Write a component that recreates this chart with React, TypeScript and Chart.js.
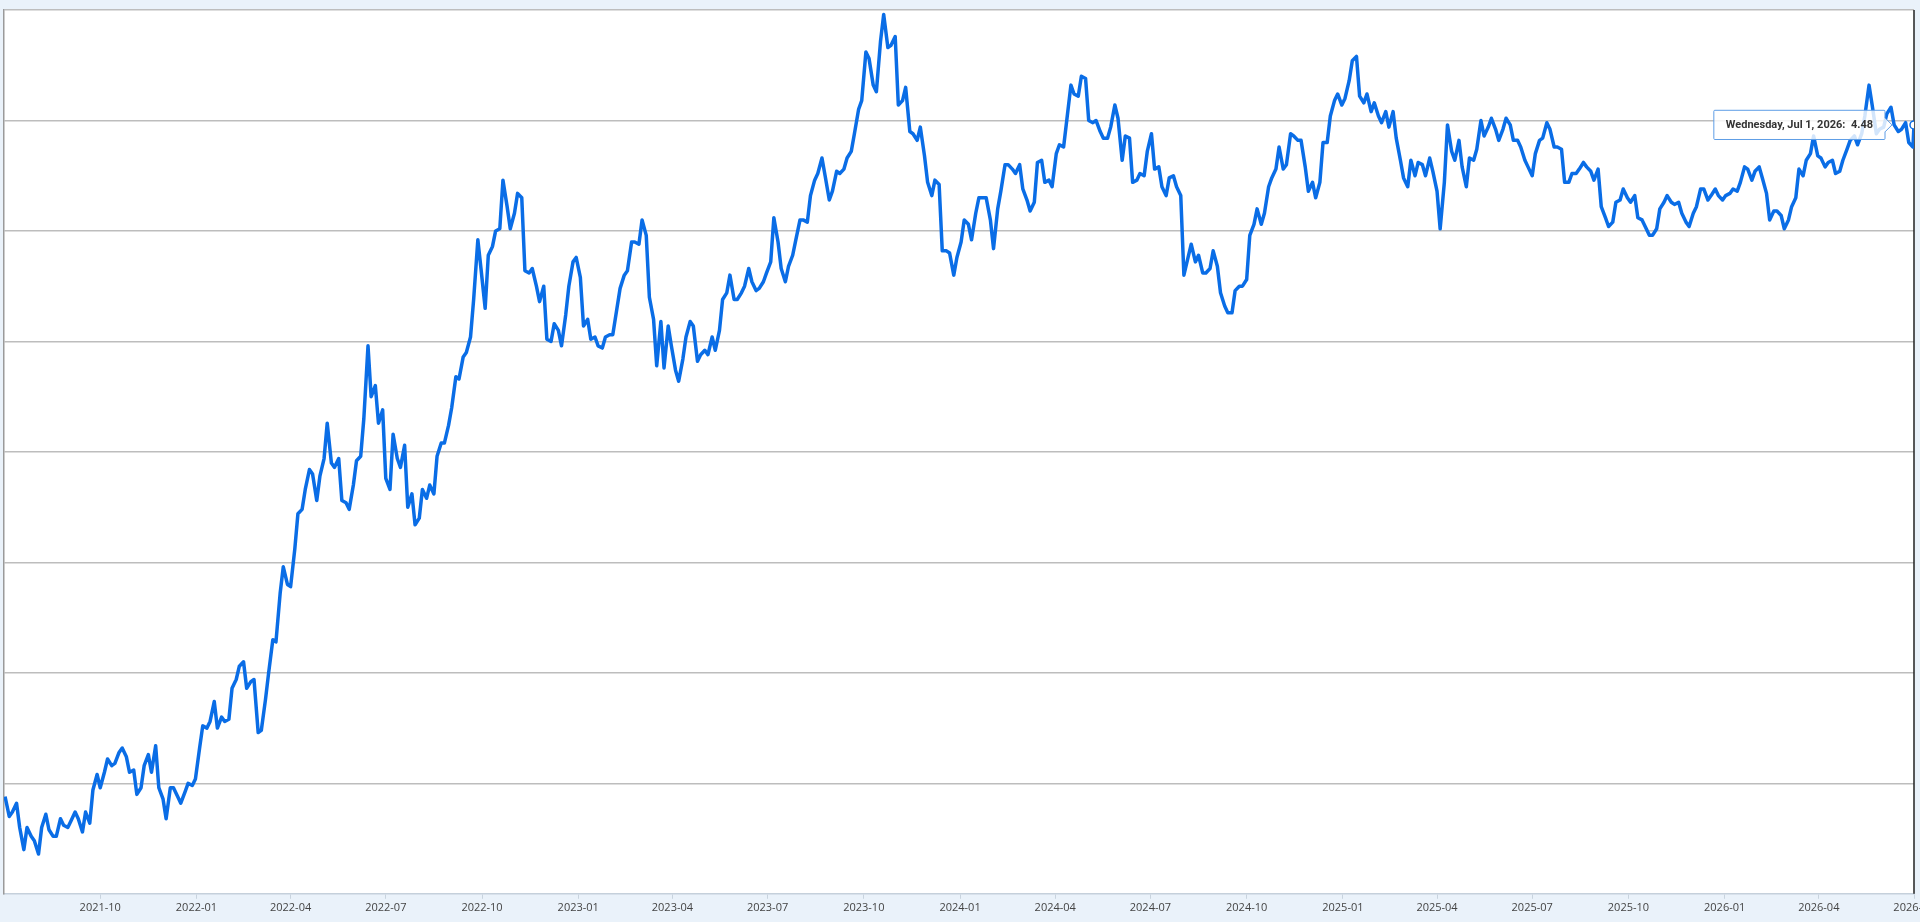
import { useEffect, useRef } from 'react';
import Chart from 'chart.js/auto';

// 10-year yield: Friday closes and Tuesday closes
const FIRST_FRIDAY = '2021-07-02';
const FIRST_TUESDAY = '2021-07-06';

const fri2021 = [
  1.44, 1.37, 1.30, 1.30, 1.24, 1.30, 1.29, 1.26, 1.31, 1.33, 1.34, 1.37, 1.47,
  1.48, 1.61, 1.59, 1.66, 1.55, 1.45, 1.58, 1.55, 1.48, 1.34, 1.48, 1.41, 1.50, 1.52,
];
const tue2021 = [
  1.35, 1.41, 1.20, 1.26, 1.18, 1.36, 1.26, 1.34, 1.30, 1.37, 1.28, 1.32, 1.54,
  1.55, 1.58, 1.64, 1.62, 1.56, 1.48, 1.63, 1.67, 1.43, 1.48, 1.44, 1.46, 1.49,
];
const fri2022 = [
  1.76, 1.78, 1.75, 1.78, 1.93, 2.03, 1.93, 1.97, 1.74, 2.00, 2.14, 2.48, 2.39,
  2.72, 2.83, 2.90, 2.89, 3.13, 2.93, 2.78, 2.74, 2.96, 3.15, 3.25, 3.13, 2.88,
  3.08, 2.93, 2.75, 2.67, 2.83, 2.85, 2.98, 3.04, 3.20, 3.33, 3.45, 3.69, 3.83,
  3.89, 4.00, 4.23, 4.01, 4.17, 3.82, 3.83, 3.68, 3.51, 3.58, 3.48, 3.75, 3.88,
];
const tue2022 = [
  1.66, 1.75, 1.87, 1.80, 1.79, 1.97, 2.05, 1.96, 1.73, 1.88, 2.15, 2.36, 2.40,
  2.56, 2.74, 2.92, 2.78, 2.97, 2.95, 2.97, 2.77, 2.85, 2.98, 3.48, 3.30, 3.19,
  2.83, 2.97, 3.03, 2.81, 2.70, 2.79, 2.81, 3.04, 3.12, 3.34, 3.43, 3.52, 3.96,
  3.65, 3.93, 4.01, 4.11, 4.08, 4.15, 3.81, 3.75, 3.75, 3.50, 3.55, 3.62, 3.86,
];
const fri2023 = [
  3.57, 3.51, 3.48, 3.52, 3.53, 3.74, 3.82, 3.95, 4.05, 3.70, 3.39, 3.38, 3.48,
  3.32, 3.52, 3.57, 3.44, 3.44, 3.46, 3.69, 3.80, 3.69, 3.75, 3.77, 3.74, 3.81,
  4.06, 3.83, 3.84, 3.96, 4.05, 4.16, 4.26, 4.25, 4.18, 4.26, 4.33, 4.44, 4.59,
  4.78, 4.63, 4.98, 4.84, 4.57, 4.65, 4.44, 4.47, 4.22, 4.23, 3.91, 3.90, 3.88,
];
const tue2023 = [
  3.79, 3.60, 3.52, 3.47, 3.53, 3.65, 3.80, 3.95, 3.94, 3.98, 3.60, 3.59, 3.57,
  3.37, 3.42, 3.59, 3.41, 3.46, 3.52, 3.55, 3.72, 3.69, 3.72, 3.83, 3.73, 3.77,
  3.86, 3.95, 3.77, 3.89, 4.05, 4.04, 4.23, 4.33, 4.14, 4.27, 4.28, 4.36, 4.55,
  4.81, 4.66, 4.86, 4.83, 4.88, 4.59, 4.45, 4.41, 4.34, 4.16, 4.21, 3.91, 3.80,
];
const fri2024 = [
  4.05, 3.96, 4.15, 4.15, 3.92, 4.18, 4.30, 4.26, 4.19, 4.09, 4.31, 4.22, 4.20,
  4.39, 4.50, 4.62, 4.70, 4.50, 4.50, 4.42, 4.47, 4.51, 4.43, 4.22, 4.26, 4.36,
  4.28, 4.20, 4.24, 4.20, 3.80, 3.94, 3.89, 3.81, 3.91, 3.72, 3.63, 3.73, 3.75,
  3.98, 4.10, 4.08, 4.24, 4.38, 4.30, 4.43, 4.41, 4.18, 4.15, 4.40, 4.52, 4.62,
];
const tue2024 = [
  3.95, 4.03, 4.08, 4.15, 4.05, 4.10, 4.30, 4.28, 4.30, 4.14, 4.13, 4.32, 4.23,
  4.35, 4.38, 4.66, 4.61, 4.69, 4.49, 4.45, 4.42, 4.57, 4.32, 4.42, 4.23, 4.25,
  4.44, 4.29, 4.16, 4.25, 4.16, 3.88, 3.86, 3.81, 3.83, 3.84, 3.66, 3.63, 3.75,
  3.78, 4.03, 4.03, 4.20, 4.28, 4.28, 4.44, 4.41, 4.29, 4.22, 4.22, 4.40, 4.59, 4.57,
];
const fri2025 = [
  4.60, 4.77, 4.61, 4.62, 4.58, 4.49, 4.47, 4.42, 4.24, 4.32, 4.31, 4.25, 4.27,
  4.01, 4.48, 4.32, 4.29, 4.33, 4.37, 4.43, 4.51, 4.41, 4.51, 4.41, 4.38, 4.29,
  4.35, 4.42, 4.46, 4.38, 4.22, 4.26, 4.28, 4.29, 4.23, 4.11, 4.02, 4.13, 4.19,
  4.13, 4.06, 4.02, 3.98, 4.10, 4.16, 4.12, 4.08, 4.02, 4.11, 4.19, 4.16, 4.16,
];
const tue2025 = [
  4.68, 4.79, 4.58, 4.54, 4.52, 4.54, 4.54, 4.32, 4.20, 4.25, 4.30, 4.33, 4.18,
  4.22, 4.36, 4.41, 4.20, 4.32, 4.50, 4.47, 4.46, 4.46, 4.48, 4.41, 4.32, 4.25,
  4.41, 4.49, 4.38, 4.37, 4.22, 4.26, 4.31, 4.27, 4.28, 4.06, 4.04, 4.14, 4.15,
  4.16, 4.05, 3.98, 4.01, 4.13, 4.13, 4.13, 4.04, 4.08, 4.19, 4.14, 4.19, 4.14,
];
const fri2026 = [
  4.16, 4.19, 4.22, 4.28, 4.27, 4.24, 4.05, 4.09, 4.01, 4.11, 4.28, 4.32, 4.43,
  4.33, 4.31, 4.26, 4.32, 4.41, 4.39, 4.52, 4.57, 4.46, 4.53, 4.48, 4.46, 4.40,
];
const tue2026 = [
  4.17, 4.18, 4.29, 4.23, 4.29, 4.17, 4.09, 4.07, 4.05, 4.15, 4.25, 4.35, 4.34,
  4.29, 4.32, 4.27, 4.37, 4.43, 4.44, 4.66, 4.44, 4.47, 4.56, 4.45, 4.49, 4.38,
];
const LAST_DATE = '2026-07-01';
const LAST_VALUE = 4.48;

const tickMonths = [
  '2021-10', '2022-01', '2022-04', '2022-07', '2022-10', '2023-01', '2023-04',
  '2023-07', '2023-10', '2024-01', '2024-04', '2024-07', '2024-10', '2025-01',
  '2025-04', '2025-07', '2025-10', '2026-01', '2026-04', '2026-07',
];

const AXIS_START = '2021-07-01';
const AXIS_END = '2026-07-01';
const LINE_COLOR = '#0a6de6';

const DAY = 86400000;
const dayOf = (iso: string) => (Date.parse(iso) - Date.parse(AXIS_START)) / DAY;

const longDate = (d: number) =>
  new Date(Date.parse(AXIS_START) + d * DAY).toLocaleDateString('en-US', {
    weekday: 'long',
    month: 'short',
    day: 'numeric',
    year: 'numeric',
    timeZone: 'UTC',
  });

const fridays = [...fri2021, ...fri2022, ...fri2023, ...fri2024, ...fri2025, ...fri2026];
const tuesdays = [...tue2021, ...tue2022, ...tue2023, ...tue2024, ...tue2025, ...tue2026];

const points = [
  ...fridays.map((v, i) => ({ x: dayOf(FIRST_FRIDAY) + 7 * i, y: v })),
  ...tuesdays.map((v, i) => ({ x: dayOf(FIRST_TUESDAY) + 7 * i, y: v })),
].sort((a, b) => a.x - b.x);
points.push({ x: dayOf(LAST_DATE), y: LAST_VALUE });

const tickLabel = new Map(tickMonths.map((m) => [dayOf(m + '-01'), m]));

export default function App() {
  const canvasRef = useRef<HTMLCanvasElement>(null);

  useEffect(() => {
    const canvas = canvasRef.current;
    if (!canvas) return;

    Chart.defaults.font.family = "'Open Sans', sans-serif";

    const frame = {
      id: 'frame',
      beforeDraw(chart: Chart) {
        const { ctx, chartArea: a } = chart;
        ctx.save();
        ctx.fillStyle = '#ffffff';
        ctx.fillRect(a.left, a.top, a.right - a.left, a.bottom - a.top);
        ctx.restore();
      },
      beforeDatasetsDraw(chart: Chart) {
        const { ctx, chartArea: a } = chart;
        ctx.save();
        ctx.strokeStyle = '#222222';
        ctx.lineWidth = 1.5;
        ctx.beginPath();
        ctx.moveTo(a.right, a.top);
        ctx.lineTo(a.right, a.bottom);
        ctx.stroke();
        ctx.restore();
      },
    };

    const chart = new Chart(canvas, {
      type: 'line',
      data: {
        datasets: [
          {
            label: '10Y',
            data: points,
            borderColor: LINE_COLOR,
            borderWidth: 3.5,
            borderJoinStyle: 'round',
            pointRadius: 0,
            pointHoverRadius: 4,
            pointHoverBorderWidth: 1.5,
            pointHoverBackgroundColor: '#ffffff',
            pointHoverBorderColor: LINE_COLOR,
            tension: 0,
            fill: false,
          },
        ],
      },
      options: {
        responsive: true,
        maintainAspectRatio: false,
        animation: false,
        events: [],
        layout: { padding: { left: 4, top: 10, right: 46, bottom: 6 } },
        plugins: {
          legend: { display: false },
          tooltip: {
            xAlign: 'right',
            yAlign: 'center',
            backgroundColor: 'rgba(255,255,255,0.82)',
            borderColor: '#5e9de6',
            borderWidth: 1,
            cornerRadius: 1,
            caretSize: 7,
            caretPadding: 22,
            displayColors: false,
            padding: { x: 12, y: 8 },
            bodyColor: '#333333',
            bodyFont: { family: 'Roboto', size: 11, weight: 'bold' },
            callbacks: {
              title: () => '',
              label: (c) => `${longDate(c.parsed.x)}:  ${c.parsed.y.toFixed(2)}`,
            },
          },
        },
        scales: {
          x: {
            type: 'linear',
            min: 0,
            max: dayOf(AXIS_END),
            afterBuildTicks: (scale) => {
              scale.ticks = tickMonths.map((m) => ({ value: dayOf(m + '-01') }));
            },
            ticks: {
              autoSkip: false,
              maxRotation: 0,
              padding: 2,
              color: '#444444',
              font: { size: 11 },
              callback: (v) => tickLabel.get(Number(v)) ?? '',
            },
            grid: { drawOnChartArea: false, tickLength: 5, color: '#c8d3de' },
            border: { display: true, color: '#c5d0db', width: 1.5 },
          },
          y: {
            min: 1,
            max: 5,
            ticks: { display: false, stepSize: 0.5 },
            grid: {
              drawTicks: false,
              lineWidth: 1.5,
              color: (c) => (c.tick && c.tick.value === 1 ? 'rgba(0,0,0,0)' : '#bdbdbd'),
            },
            border: { display: true, color: '#9a9a9a', width: 1.5 },
          },
        },
      },
      plugins: [frame],
    });

    const last = points.length - 1;
    const el = chart.getDatasetMeta(0).data[last];
    chart.setActiveElements([{ datasetIndex: 0, index: last }]);
    chart.tooltip?.setActiveElements([{ datasetIndex: 0, index: last }], { x: el.x, y: el.y });
    chart.update();

    return () => chart.destroy();
  }, []);

  return (
    <div style={{ position: 'fixed', inset: 0, overflow: 'hidden', background: '#eaf2fa' }}>
      <div style={{ position: 'relative', width: 1960, height: 922 }}>
        <canvas ref={canvasRef} />
      </div>
    </div>
  );
}
